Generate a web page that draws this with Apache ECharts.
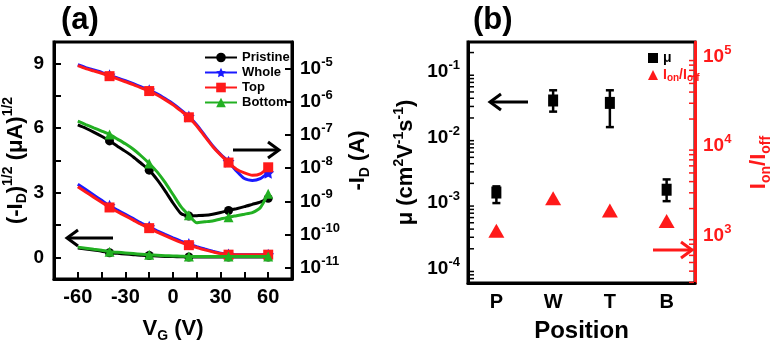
<!DOCTYPE html>
<html>
<head>
<meta charset="utf-8">
<script src="https://cdn.jsdelivr.net/npm/echarts@6/dist/echarts.min.js"></script>
<style>
  html, body { margin: 0; padding: 0; background: #fff; }
  #chart { width: 774px; height: 348px; }
</style>
</head>
<body>
<div id="chart"></div>
<script>
// ---- panel (a): transfer curves ----
const vg = [-60, -55, -50, -45, -40, -35, -30, -25, -20, -15, -10, -5, 0, 5, 10, 15, 20, 25, 30, 35, 40, 45, 50, 55, 60]
const markerVg = [-40, -15, 10, 35, 60]

// -I_D (A), right log axis
const pristineId = [2.0e-7, 1.59e-7, 1.22e-7, 9.1e-8, 6.6e-8, 4.6e-8, 3.2e-8, 2.17e-8, 1.38e-8, 8.7e-9, 4.5e-9, 2.07e-9, 8.9e-10, 4.3e-10, 3.6e-10, 3.7e-10, 3.8e-10, 4.1e-10, 4.6e-10, 5.3e-10, 6.0e-10, 6.9e-10, 8.1e-10, 9.5e-10, 1.23e-9]
const wholeId = [1.3e-5, 1.07e-5, 9.1e-6, 7.7e-6, 6.3e-6, 5.2e-6, 4.3e-6, 3.5e-6, 2.8e-6, 2.23e-6, 1.72e-6, 1.24e-6, 8.7e-7, 5.7e-7, 3.6e-7, 2.0e-7, 9.7e-8, 4.75e-8, 2.6e-8, 1.57e-8, 8.2e-9, 4.85e-9, 4.25e-9, 4.85e-9, 7.2e-9]
const topId = [1.22e-5, 1.0e-5, 8.5e-6, 7.2e-6, 5.9e-6, 4.9e-6, 4.0e-6, 3.3e-6, 2.6e-6, 2.1e-6, 1.6e-6, 1.16e-6, 8.1e-7, 5.3e-7, 3.4e-7, 1.87e-7, 9.1e-8, 4.5e-8, 2.5e-8, 1.47e-8, 9.3e-9, 7.2e-9, 6.1e-9, 6.7e-9, 1.06e-8]
const bottomId = [2.6e-7, 2.06e-7, 1.64e-7, 1.31e-7, 1.04e-7, 7.5e-8, 5.4e-8, 3.7e-8, 2.32e-8, 1.38e-8, 7.7e-9, 3.7e-9, 1.6e-9, 6.9e-10, 3.8e-10, 2.26e-10, 2.41e-10, 2.57e-10, 2.93e-10, 3.34e-10, 3.7e-10, 4.1e-10, 4.6e-10, 6.4e-10, 1.7e-9]

// (-I_D)^1/2 (uA)^1/2, left linear axis
const pristineSqrt = [0.44, 0.39, 0.34, 0.29, 0.22, 0.19, 0.16, 0.13, 0.10, 0.09, 0.07, 0.05, 0.04, 0.03, 0.02, 0.02, 0.02, 0.02, 0.02, 0.02, 0.02, 0.02, 0.02, 0.02, 0.02]
const wholeSqrt = [3.40, 3.15, 2.90, 2.65, 2.40, 2.20, 2.00, 1.80, 1.60, 1.42, 1.24, 1.07, 0.91, 0.76, 0.62, 0.50, 0.39, 0.29, 0.20, 0.14, 0.12, 0.12, 0.12, 0.12, 0.12]
const topSqrt = [3.28, 3.04, 2.80, 2.56, 2.32, 2.12, 1.93, 1.73, 1.53, 1.36, 1.18, 1.01, 0.85, 0.70, 0.57, 0.46, 0.35, 0.26, 0.18, 0.13, 0.13, 0.13, 0.13, 0.13, 0.13]
const bottomSqrt = [0.48, 0.43, 0.38, 0.33, 0.27, 0.24, 0.21, 0.18, 0.15, 0.12, 0.10, 0.08, 0.07, 0.06, 0.05, 0.05, 0.05, 0.05, 0.05, 0.05, 0.05, 0.05, 0.05, 0.05, 0.05]

const sqrtTicks = [0, 1.5, 3, 4.5, 6, 7.5, 9]
const sqrtLabels = [0, 3, 6, 9]
const idRange = [Math.pow(10, -11.34), Math.pow(10, -4.2)]

// ---- panel (b): mobility and on/off ratio ----
const positions = ['P', 'W', 'T', 'B']
const mobility = [1.45e-3, 3.7e-2, 3.4e-2, 1.6e-3]
const mobilityLow = [1.0e-3, 2.5e-2, 1.45e-2, 1.07e-3]
const mobilityHigh = [1.8e-3, 5.3e-2, 5.3e-2, 2.3e-3]
const onOff = [1130, 2600, 1900, 1450]

const mobilityRange = [6.0e-5, 0.29]
const ratioRange = [295, 1.45e5]
const mobilityDecades = [-5, -4, -3, -2, -1]
const ratioDecades = [2, 3, 4, 5]

// small log ticks at 2..9 x 10^n
const logMinor = (decades, range) => decades
  .reduce((acc, d) => acc.concat([2, 3, 4, 5, 6, 7, 8, 9].map(m => m * Math.pow(10, d))), [])
  .filter(v => v > range[0] && v < range[1])

const FONT = '"Liberation Sans", Arial, sans-serif'
const RED = '#ff1a1a'
const BLUE = '#1a1aff'
const GREEN = '#22b022'
const STAR = 'path://M0,-10L2.9,-4L9.5,-3.1L4.7,1.5L5.9,8.1L0,5L-5.9,8.1L-4.7,1.5L-9.5,-3.1L-2.9,-4Z'

const pairs = ys => vg.map((v, i) => [v, ys[i]])
const markSize = s => (val) => markerVg.indexOf(val[0]) >= 0 ? s : 0

const richBase = {
  n: { fontSize: 22, fontWeight: 'bold', fontFamily: FONT, lineHeight: 28 },
  sub: { fontSize: 14, fontWeight: 'bold', fontFamily: FONT, verticalAlign: 'bottom', lineHeight: 14 },
  sup: { fontSize: 14, fontWeight: 'bold', fontFamily: FONT, verticalAlign: 'top', lineHeight: 14 }
}
const richRed = {
  n: Object.assign({}, richBase.n, { color: RED }),
  sub: Object.assign({}, richBase.sub, { color: RED }),
  sup: Object.assign({}, richBase.sup, { color: RED })
}
const tickRich = color => ({
  b: { fontSize: 19, fontWeight: 'bold', fontFamily: FONT, color: color, lineHeight: 26 },
  s: { fontSize: 13, fontWeight: 'bold', fontFamily: FONT, color: color, verticalAlign: 'top', lineHeight: 13 }
})
const powLabel = v => '{b|10}{s|' + Math.round(Math.log10(v)) + '}'

const lineStyleAxis = color => ({ show: true, onZero: false, lineStyle: { color: color, width: 3 } })

function arrow (x1, x2, y, color) {
  const dir = x2 > x1 ? 1 : -1
  return {
    type: 'group',
    children: [
      { type: 'line', shape: { x1: x1, y1: y, x2: x2, y2: y }, style: { stroke: color, lineWidth: 3 } },
      { type: 'polyline', shape: { points: [[x2 - dir * 11, y - 8], [x2, y], [x2 - dir * 11, y + 8]] }, style: { stroke: color, lineWidth: 3, fill: null } }
    ]
  }
}

const lineSeries = (name, color, symbol, size, data, yIdx, z) => ({
  name: name,
  type: 'line',
  xAxisIndex: 0,
  yAxisIndex: yIdx,
  data: pairs(data),
  smooth: 0.2,
  symbol: symbol,
  symbolSize: markSize(size),
  showSymbol: true,
  z: z,
  lineStyle: { color: color, width: 3 },
  itemStyle: { color: color },
  emphasis: { disabled: true }
})

// short inside ticks on a log axis, placed through the axis scales
const minorTicks = (yIdx, values, side, color) => ({
  type: 'custom',
  xAxisIndex: 1,
  yAxisIndex: yIdx,
  data: values.map(v => [side === 'left' ? 0 : positions.length - 1, v]),
  encode: { x: 0, y: 1 },
  z: 6,
  renderItem: (params, api) => {
    const p = api.coord([api.value(0), api.value(1)])
    const half = api.size([1, 0])[0] / 2
    const x0 = side === 'left' ? p[0] - half + 1 : p[0] + half - 1
    const x1 = side === 'left' ? x0 + 5 : x0 - 5
    return { type: 'line', shape: { x1: x0, y1: p[1], x2: x1, y2: p[1] }, style: { stroke: color, lineWidth: 1.5 } }
  }
})

const option = {
  animation: false,
  textStyle: { fontFamily: FONT },
  title: [
    { text: '(a)', left: 56, top: 0, textStyle: { fontSize: 31, fontWeight: 'bold', fontFamily: FONT, color: '#000' } },
    { text: '(b)', left: 468, top: 0, textStyle: { fontSize: 31, fontWeight: 'bold', fontFamily: FONT, color: '#000' } }
  ],
  grid: [
    { left: 54, top: 42, width: 238, height: 251, show: true, borderColor: '#000', borderWidth: 3 },
    { left: 468, top: 42, width: 237, height: 250, show: true, borderColor: '#000', borderWidth: 3 }
  ],
  legend: [
    {
      left: 199, top: 46, orient: 'vertical', itemWidth: 32, itemHeight: 12, itemGap: 2,
      data: ['Pristine', 'Whole', 'Top', 'Bottom'],
      textStyle: { fontSize: 13, fontWeight: 'bold', fontFamily: FONT, color: '#000', lineHeight: 13 }
    },
    {
      left: 643, top: 46, orient: 'vertical', itemWidth: 10, itemHeight: 10, itemGap: 3,
      data: ['μ', 'Ion/Ioff'],
      formatter: name => name === 'μ' ? '{k|μ}' : '{r|I}{rs|on}{r|/I}{rs|off}',
      textStyle: {
        fontFamily: FONT,
        rich: {
          k: { fontSize: 14, fontWeight: 'bold', fontFamily: FONT, color: '#000' },
          r: { fontSize: 14, fontWeight: 'bold', fontFamily: FONT, color: RED, lineHeight: 17 },
          rs: { fontSize: 10, fontWeight: 'bold', fontFamily: FONT, color: RED, verticalAlign: 'bottom', lineHeight: 10 }
        }
      }
    }
  ],
  xAxis: [
    {
      gridIndex: 0,
      type: 'value',
      min: -75,
      max: 75,
      interval: 15,
      axisLine: lineStyleAxis('#000'),
      axisTick: { inside: true, length: 7, lineStyle: { width: 2, color: '#000' } },
      axisLabel: {
        formatter: v => (v % 30 === 0 && Math.abs(v) < 75) ? String(v) : '',
        fontSize: 20, fontWeight: 'bold', fontFamily: FONT, color: '#000', margin: 8
      },
      splitLine: { show: false },
      name: '{n|V}{sub|G}{n| (V)}',
      nameLocation: 'middle',
      nameGap: 36,
      nameTextStyle: { rich: richBase }
    },
    {
      gridIndex: 1,
      type: 'category',
      data: positions,
      boundaryGap: true,
      axisLine: lineStyleAxis('#000'),
      axisTick: { inside: true, alignWithLabel: true, length: 7, lineStyle: { width: 2, color: '#000' } },
      axisLabel: { fontSize: 20, fontWeight: 'bold', fontFamily: FONT, color: '#000', margin: 9 },
      name: 'Position',
      nameLocation: 'middle',
      nameGap: 36,
      nameTextStyle: { fontSize: 24, fontWeight: 'bold', fontFamily: FONT, color: '#000' }
    }
  ],
  yAxis: [
    {
      gridIndex: 0,
      type: 'value',
      position: 'left',
      min: -1,
      max: 10,
      axisLine: lineStyleAxis('#000'),
      axisTick: { inside: true, length: 7, customValues: sqrtTicks, lineStyle: { width: 2, color: '#000' } },
      axisLabel: { customValues: sqrtLabels, fontSize: 19, fontWeight: 'bold', fontFamily: FONT, color: '#000', margin: 10 },
      splitLine: { show: false },
      name: '{n|(-I}{sub|D}{n|)}{sup|1/2}{n| (μA)}{sup|1/2}',
      nameLocation: 'middle',
      nameRotate: 90,
      nameGap: 24,
      nameTextStyle: { rich: richBase }
    },
    {
      gridIndex: 0,
      type: 'log',
      logBase: 10,
      position: 'right',
      min: idRange[0],
      max: idRange[1],
      axisLine: lineStyleAxis('#000'),
      axisTick: { inside: true, length: 7, lineStyle: { width: 2, color: '#000' } },
      axisLabel: { formatter: powLabel, showMinLabel: false, showMaxLabel: false, margin: 8, rich: tickRich('#000') },
      splitLine: { show: false },
      name: '{n|-I}{sub|D}{n| (A)}',
      nameLocation: 'middle',
      nameRotate: 90,
      nameGap: 52,
      nameTextStyle: { rich: richBase }
    },
    {
      gridIndex: 1,
      type: 'log',
      logBase: 10,
      position: 'left',
      min: mobilityRange[0],
      max: mobilityRange[1],
      axisLine: lineStyleAxis('#000'),
      axisTick: { inside: true, length: 8, lineStyle: { width: 2, color: '#000' } },
      axisLabel: { formatter: powLabel, showMinLabel: false, showMaxLabel: false, margin: 8, rich: tickRich('#000') },
      splitLine: { show: false },
      name: '{n|μ (cm}{sup|2}{n|V}{sup|-1}{n|s}{sup|-1}{n|)}',
      nameLocation: 'middle',
      nameRotate: 90,
      nameGap: 48,
      nameTextStyle: { rich: richBase }
    },
    {
      gridIndex: 1,
      type: 'log',
      logBase: 10,
      position: 'right',
      min: ratioRange[0],
      max: ratioRange[1],
      axisLine: lineStyleAxis(RED),
      axisTick: { inside: true, length: 8, lineStyle: { width: 2, color: RED } },
      axisLabel: { formatter: powLabel, showMinLabel: false, showMaxLabel: false, margin: 8, rich: tickRich(RED) },
      splitLine: { show: false },
      name: '{n|I}{sub|on}{n|/I}{sub|off}',
      nameLocation: 'middle',
      nameRotate: 90,
      nameGap: 50,
      nameTextStyle: { rich: richRed }
    }
  ],
  graphic: [
    arrow(233, 279, 150, '#000'),
    arrow(113, 67, 238, '#000'),
    arrow(528, 490, 102, '#000'),
    arrow(653, 692, 250, RED)
  ],
  series: [
    lineSeries('Pristine', '#000', 'circle', 9, pristineSqrt, 0, 2),
    lineSeries('Whole', BLUE, STAR, 12, wholeSqrt, 0, 3),
    lineSeries('Top', RED, 'rect', 10, topSqrt, 0, 4),
    lineSeries('Bottom', GREEN, 'triangle', 10, bottomSqrt, 0, 5),
    lineSeries('Pristine', '#000', 'circle', 9, pristineId, 1, 2),
    lineSeries('Whole', BLUE, STAR, 12, wholeId, 1, 3),
    lineSeries('Top', RED, 'rect', 10, topId, 1, 4),
    lineSeries('Bottom', GREEN, 'triangle', 10, bottomId, 1, 5),
    minorTicks(2, logMinor(mobilityDecades, mobilityRange), 'left', '#000'),
    minorTicks(3, logMinor(ratioDecades, ratioRange), 'right', RED),
    {
      type: 'custom',
      xAxisIndex: 1,
      yAxisIndex: 2,
      data: positions.map((p, i) => [i, mobilityLow[i], mobilityHigh[i]]),
      encode: { x: 0, y: [1, 2] },
      z: 3,
      renderItem: (params, api) => {
        const lo = api.coord([api.value(0), api.value(1)])
        const hi = api.coord([api.value(0), api.value(2)])
        const st = { stroke: '#000', lineWidth: 2.5 }
        return {
          type: 'group',
          children: [
            { type: 'line', shape: { x1: lo[0], y1: lo[1], x2: hi[0], y2: hi[1] }, style: st },
            { type: 'line', shape: { x1: lo[0] - 4, y1: lo[1], x2: lo[0] + 4, y2: lo[1] }, style: st },
            { type: 'line', shape: { x1: hi[0] - 4, y1: hi[1], x2: hi[0] + 4, y2: hi[1] }, style: st }
          ]
        }
      }
    },
    {
      name: 'μ',
      type: 'scatter',
      xAxisIndex: 1,
      yAxisIndex: 2,
      data: mobility,
      symbol: 'rect',
      symbolSize: [10, 12],
      itemStyle: { color: '#000', opacity: 1 },
      z: 4
    },
    {
      name: 'Ion/Ioff',
      type: 'scatter',
      xAxisIndex: 1,
      yAxisIndex: 3,
      data: onOff,
      symbol: 'triangle',
      symbolSize: [16, 14],
      itemStyle: { color: RED, opacity: 1 },
      z: 4
    }
  ]
}

const chart = echarts.init(document.getElementById('chart'))
chart.setOption(option)
</script>
</body>
</html>
